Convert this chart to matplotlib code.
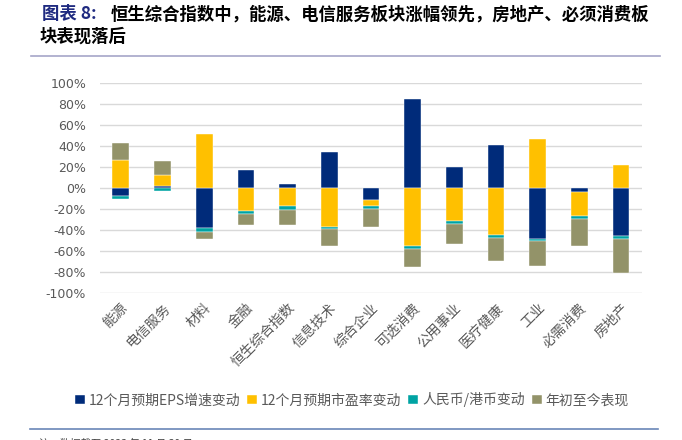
import matplotlib
matplotlib.use("Agg")
import matplotlib.pyplot as plt
import numpy as np

plt.rcParams['font.family'] = ['Noto Sans CJK SC', 'DejaVu Sans']
plt.rcParams['axes.unicode_minus'] = False

sectors = ["能源", "电信服务", "材料", "金融", "恒生综合指数", "信息技术", "综合企业",
           "可选消费", "公用事业", "医疗健康", "工业", "必需消费", "房地产"]
series_names = ["12个月预期EPS增速变动", "12个月预期市盈率变动", "人民币/港币变动", "年初至今表现"]
eps_chg = [-7.9, 1.3, -38.6, 16.5, 3.2, 34.2, -12.0, 84.5, 19.9, 41.1, -48.4, -4.1, -45.6]
pe_chg = [26.6, 11.0, 51.0, -22.5, -17.7, -37.3, -5.7, -55.4, -32.0, -44.9, 46.8, -23.1, 21.5]
fx_chg = [-3.2, -3.0, -3.2, -2.8, -3.2, -2.5, -2.8, -2.8, -2.8, -2.8, -2.8, -2.8, -2.8]
ytd = [16.1, 13.0, -7.3, -9.8, -14.9, -15.5, -16.5, -17.1, -18.4, -21.8, -23.7, -25.9, -33.2]
colors = ["#002B7A", "#FFC000", "#00A3A3", "#939369"]

fig = plt.figure(figsize=(6.82, 4.4), dpi=100)
ax = fig.add_axes([0.1466, 0.3348, 0.7944, 0.4772])

x = np.arange(len(sectors))
pos_base = np.zeros(len(sectors))
neg_base = np.zeros(len(sectors))
for vals, name, c in zip([eps_chg, pe_chg, fx_chg, ytd], series_names, colors):
    v = np.array(vals)
    bottom = np.where(v >= 0, pos_base, neg_base)
    ax.bar(x, v, 0.4, bottom=bottom, color=c, label=name, edgecolor="white", linewidth=0.3, zorder=3)
    pos_base = pos_base + np.where(v >= 0, v, 0)
    neg_base = neg_base + np.where(v < 0, v, 0)

ax.set_xlim(-0.5, len(sectors) - 0.5)
ax.set_ylim(-100, 100)
ax.set_yticks(np.arange(-100, 101, 20))
ax.set_yticklabels([f"{t}%" for t in range(-100, 101, 20)], color="#595959", fontsize=9,
                   family=["DejaVu Sans"])
ax.yaxis.grid(True, color="#D9D9D9", linewidth=1, zorder=0)
ax.set_xticks(x)
ax.set_xticklabels(sectors, rotation=45, ha="right", rotation_mode="anchor",
                   color="#595959", fontsize=10)
ax.tick_params(axis="both", length=0)
ax.tick_params(axis="x", pad=6)
ax.tick_params(axis="y", pad=10)
for s in ax.spines.values():
    s.set_visible(False)

fig.legend(loc="center", bbox_to_anchor=(0.516, 0.091), ncol=4, frameon=False,
           fontsize=10, labelcolor="#595959", handlelength=0.7, handleheight=0.7,
           handletextpad=0.3, columnspacing=0.5)

fig.text(0.061, 0.988, "图表 8:", color="#1F2A80", fontsize=12.5, fontweight="bold", va="top")
fig.text(0.163, 0.988, "恒生综合指数中，能源、电信服务板块涨幅领先，房地产、必须消费板",
         color="black", fontsize=12.5, fontweight="bold", va="top")
fig.text(0.058, 0.938, "块表现落后", color="black", fontsize=12.5, fontweight="bold", va="top")
fig.add_artist(plt.Line2D([0.046, 0.968], [0.872, 0.872], color="#A6A6C8", linewidth=1.2))
fig.add_artist(plt.Line2D([0.044, 0.965], [0.025, 0.025], color="#6A86B8", linewidth=1.2))
fig.text(0.057, 0.004, "注：数据截至 2023 年 11 月 30 日", color="#404040", fontsize=7.5, va="top")

fig.savefig("out.png", dpi=100)
